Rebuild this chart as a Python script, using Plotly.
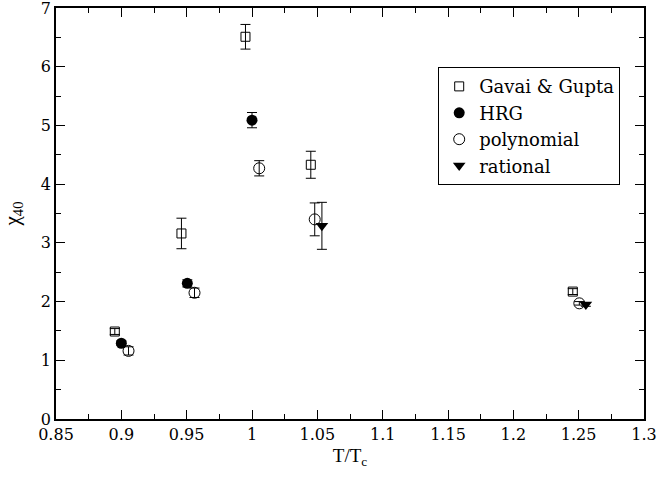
import plotly.graph_objects as go

# Gavai & Gupta
gg_x = [0.895, 0.946, 0.995, 1.045, 1.2455]
gg_y = [1.49, 3.16, 6.51, 4.33, 2.17]
gg_e = [0.05, 0.26, 0.21, 0.23, 0.05]
# HRG
hrg_x = [0.900, 0.9505, 1.000]
hrg_y = [1.29, 2.31, 5.09]
hrg_e = [0.04, 0.06, 0.13]
# polynomial
pol_x = [0.9055, 0.956, 1.0055, 1.048, 1.2505]
pol_y = [1.16, 2.15, 4.27, 3.40, 1.97]
pol_e = [0.07, 0.08, 0.13, 0.28, 0.03]
# rational
rat_x = [1.0535, 1.2555]
rat_y = [3.29, 1.95]
rat_e = [0.40, 0.03]

# tick labels
x_ticks = [0.85, 0.9, 0.95, 1.0, 1.05, 1.1, 1.15, 1.2, 1.25, 1.3]
x_labels = ["0.85", "0.9", "0.95", "1", "1.05", "1.1", "1.15", "1.2", "1.25", "1.3"]
y_ticks = [0, 1, 2, 3, 4, 5, 6, 7]
y_labels = ["0", "1", "2", "3", "4", "5", "6", "7"]
series_names = ["Gavai & Gupta", "HRG", "polynomial", "rational"]

TITLE_FONT = "Liberation Serif"
TEXT_FONT = "DejaVu Serif"

def eb(vals):
    return dict(type="data", array=vals, visible=True, color="black",
                thickness=1, width=5)

fig = go.Figure()
fig.add_trace(go.Scatter(x=gg_x, y=gg_y, error_y=eb(gg_e), mode="markers",
                         name=series_names[0],
                         marker=dict(symbol="square-open", size=9, color="black",
                                     line=dict(width=1, color="black"))))
fig.add_trace(go.Scatter(x=hrg_x, y=hrg_y, error_y=eb(hrg_e), mode="markers",
                         name=series_names[1],
                         marker=dict(symbol="circle", size=11, color="black")))
fig.add_trace(go.Scatter(x=pol_x, y=pol_y, error_y=eb(pol_e), mode="markers",
                         name=series_names[2],
                         marker=dict(symbol="circle-open", size=11, color="black",
                                     line=dict(width=1, color="black"))))
fig.add_trace(go.Scatter(x=rat_x, y=rat_y, error_y=eb(rat_e), mode="markers",
                         name=series_names[3],
                         marker=dict(symbol="triangle-down", size=11, color="black")))

axis_common = dict(showgrid=False, zeroline=False, showline=True, linecolor="black",
                   linewidth=1.5, mirror="allticks", ticks="inside", ticklen=9,
                   tickwidth=1, tickcolor="black", automargin=False,
                   ticklabeloverflow="allow",
                   tickfont=dict(family=TEXT_FONT, size=16, color="black"))

fig.update_xaxes(range=[0.85, 1.3], tickmode="array", tickvals=x_ticks,
                 ticktext=x_labels,
                 minor=dict(ticks="inside", ticklen=5, dtick=0.025, tick0=0.85,
                            tickcolor="black", tickwidth=1, showgrid=False),
                 title=dict(text="T/T<sub>c</sub>", font=dict(family=TITLE_FONT, size=19, color="black"),
                            standoff=6),
                 **axis_common)
fig.update_yaxes(range=[0, 7], tickmode="array", tickvals=y_ticks, ticktext=y_labels,
                 minor=dict(ticks="inside", ticklen=5, dtick=0.5,
                            tickcolor="black", tickwidth=1, showgrid=False),
                 title=dict(text="χ<sub>40</sub>", font=dict(family=TITLE_FONT, size=21, color="black"),
                            standoff=16),
                 **axis_common)

fig.update_layout(
    width=658, height=482,
    margin=dict(l=56, r=14, t=8, b=63),
    paper_bgcolor="white", plot_bgcolor="white",
    font=dict(family=TEXT_FONT, color="black"),
    legend=dict(x=0.65, y=0.856, xanchor="left", yanchor="top",
                bordercolor="black", borderwidth=1, bgcolor="white",
                font=dict(family=TEXT_FONT, size=18, color="black"),
                tracegroupgap=0, itemwidth=30),
)

fig.write_html("out.html")
